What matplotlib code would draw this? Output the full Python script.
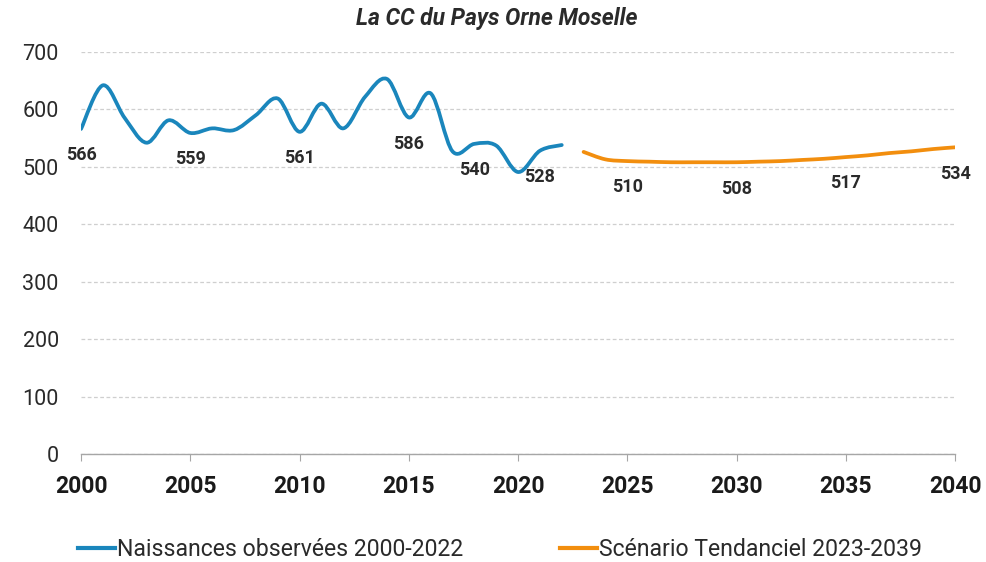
import matplotlib
matplotlib.use("Agg")
import matplotlib.pyplot as plt
from matplotlib.path import Path
from matplotlib.patches import PathPatch
from matplotlib.lines import Line2D

plt.rcParams['font.family'] = ['Roboto', 'DejaVu Sans']

# observed births 2000-2022
obs_years = list(range(2000, 2023))
obs_vals = [566, 642, 585, 542, 581, 559, 567, 564, 590, 619, 561, 610, 567,
            622, 653, 586, 628, 527, 540, 537, 491, 528, 538]

# trend scenario 2023-2040
proj_years = list(range(2023, 2041))
proj_vals = [526, 513, 510, 509, 508, 508, 508, 508, 509, 510, 512, 514, 517,
             520, 524, 527, 531, 534]

obs_labels = {2000: 566, 2005: 559, 2010: 561, 2015: 586, 2018: 540, 2021: 528}
proj_labels = {2025: 510, 2030: 508, 2035: 517, 2040: 534}

blue = '#1A86BC'
orange = '#F28E0E'
txt = '#2a2a2a'


def smooth_path(xs, ys):
    # excel-like smoothed line: cubic bezier segments through the points
    verts = [(xs[0], ys[0])]
    codes = [Path.MOVETO]
    n = len(xs)
    for i in range(n - 1):
        x0, y0 = (xs[i - 1], ys[i - 1]) if i > 0 else (xs[i], ys[i])
        x1, y1 = xs[i], ys[i]
        x2, y2 = xs[i + 1], ys[i + 1]
        x3, y3 = (xs[i + 2], ys[i + 2]) if i + 2 < n else (x2, y2)
        c1 = (x1 + (x2 - x0) / 6, y1 + (y2 - y0) / 6)
        c2 = (x2 - (x3 - x1) / 6, y2 - (y3 - y1) / 6)
        verts += [c1, c2, (x2, y2)]
        codes += [Path.CURVE4] * 3
    return Path(verts, codes)


fig = plt.figure(figsize=(9.86, 5.62), dpi=100)
ax = fig.add_axes([0.0822, 0.1922, 0.8864, 0.7153])

for xs, ys, col in [(obs_years, obs_vals, blue), (proj_years, proj_vals, orange)]:
    ax.add_patch(PathPatch(smooth_path(xs, ys), facecolor='none', edgecolor=col,
                           lw=2.7, capstyle='round', joinstyle='round', zorder=3))

for yr, v in list(obs_labels.items()) + list(proj_labels.items()):
    ax.annotate(str(v), (yr, v), xytext=(0, -19), textcoords='offset points',
                ha='center', va='center', fontsize=13, fontweight='bold', color=txt)

ax.set_xlim(2000, 2040)
ax.set_ylim(0, 700)
ax.set_xticks(range(2000, 2041, 5))
ax.set_yticks(range(0, 701, 100))
ax.grid(axis='y', color='#cfcfcf', linestyle=(0, (3, 2)), lw=0.9)
ax.set_axisbelow(True)
for s in ['top', 'right', 'left']:
    ax.spines[s].set_visible(False)
ax.spines['bottom'].set_color('#a6a6a6')
ax.spines['bottom'].set_linewidth(1.0)
ax.tick_params(axis='y', length=0, pad=16, labelsize=15.5, labelcolor=txt)
ax.tick_params(axis='x', length=5, color='#a6a6a6', pad=10, labelsize=16.5, labelcolor='#1a1a1a')
for t in ax.get_xticklabels():
    t.set_fontweight('bold')
for t in ax.get_yticklabels():
    t.set_horizontalalignment('right')

fig.text(0.504, 0.967, 'La CC du Pays Orne Moselle', ha='center', va='center',
         fontsize=16.5, fontstyle='italic', fontweight='bold', color=txt)

handles = [Line2D([], [], color=blue, lw=3), Line2D([], [], color=orange, lw=3)]
fig.legend(handles, ['Naissances observées 2000-2022', 'Scénario Tendanciel 2023-2039'],
           loc='center', bbox_to_anchor=(0.507, 0.022), ncol=2, frameon=False,
           fontsize=16.6, handlelength=1.6, handletextpad=0.1, columnspacing=4.2,
           labelcolor=txt)

fig.savefig('out.png', dpi=100)
